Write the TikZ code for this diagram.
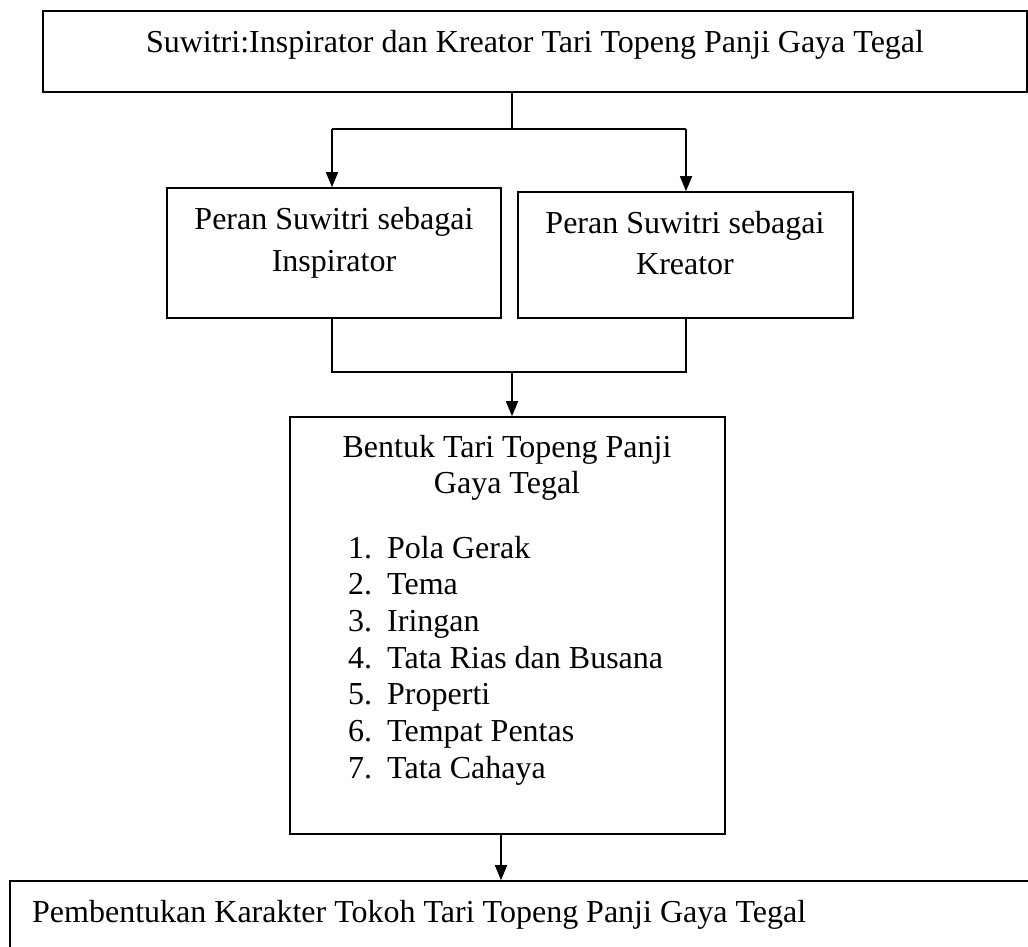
\documentclass[tikz,border=0pt]{standalone}
\usepackage{fontspec}
\setmainfont{Liberation Serif}
\usetikzlibrary{arrows.meta}
\begin{document}
\begin{tikzpicture}[x=1pt,y=-1pt,
  box/.style={draw=black,line width=1.6pt,rectangle,inner sep=0pt},
  txt/.style={inner sep=0pt,font=\fontsize{32}{36.5}\selectfont},
  conn/.style={draw=black,line width=1.6pt},
  arr/.style={conn,-{Triangle[width=12pt,length=15pt]}}]
\useasboundingbox (0,0) rectangle (1028,946);
% boxes
\node[box,minimum width=984pt,minimum height=81pt] (top) at (535,51.5) {};
\node[box,minimum width=334pt,minimum height=130pt] (left) at (334,253) {};
\node[box,minimum width=335pt,minimum height=126pt] (right) at (685.5,255) {};
\node[box,minimum width=435pt,minimum height=417pt] (mid) at (507.5,625.5) {};
\node[box,minimum width=1030pt,minimum height=79pt] (bot) at (525,920.5) {};
% texts
\node[txt,anchor=base] (t0) at (535,52) {Suwitri:Inspirator dan Kreator Tari Topeng Panji Gaya Tegal};
\node[txt,anchor=base] (tl1) at (334,229) {Peran Suwitri sebagai};
\node[txt,anchor=base] (tl2) at (334,271) {Inspirator};
\node[txt,anchor=base] (tr1) at (685,233) {Peran Suwitri sebagai};
\node[txt,anchor=base] (tr2) at (685,274) {Kreator};
\node[txt,anchor=base] (tm1) at (507,457) {Bentuk Tari Topeng Panji};
\node[txt,anchor=base] (tm2) at (507,493) {Gaya Tegal};
\foreach \n/\s [count=\i from 0] in {1/Pola Gerak,2/Tema,3/Iringan,4/Tata Rias dan Busana,5/Properti,6/Tempat Pentas,7/Tata Cahaya}{
  \node[txt,anchor=base west] (num\n) at (348,558+36.7*\i) {\n.};
  \node[txt,anchor=base west] (item\n) at (387,558+36.7*\i) {\s};
}
\node[txt,anchor=base west] (tb) at (32,922) {Pembentukan Karakter Tokoh Tari Topeng Panji Gaya Tegal};
% junctions
\coordinate (j1) at (512,129);
\coordinate (jl) at (332,129);
\coordinate (jr) at (686,129);
\coordinate (kl) at (332,372);
\coordinate (kr) at (686,372);
\coordinate (km) at (512,372);
\coordinate (bx) at (501,850);
% connectors
\draw[conn] (j1 |- top.south) -- (j1);
\draw[conn] (jl) -- (jr);
\draw[arr] (jl) -- (jl |- left.north);
\draw[arr] (jr) -- (jr |- right.north);
\draw[conn] (kl |- left.south) -- (kl) -- (kr) -- (kr |- right.south);
\draw[arr] (km) -- (km |- mid.north);
\draw[arr] (bx |- mid.south) -- (bx |- bot.north);
\end{tikzpicture}
\end{document}
